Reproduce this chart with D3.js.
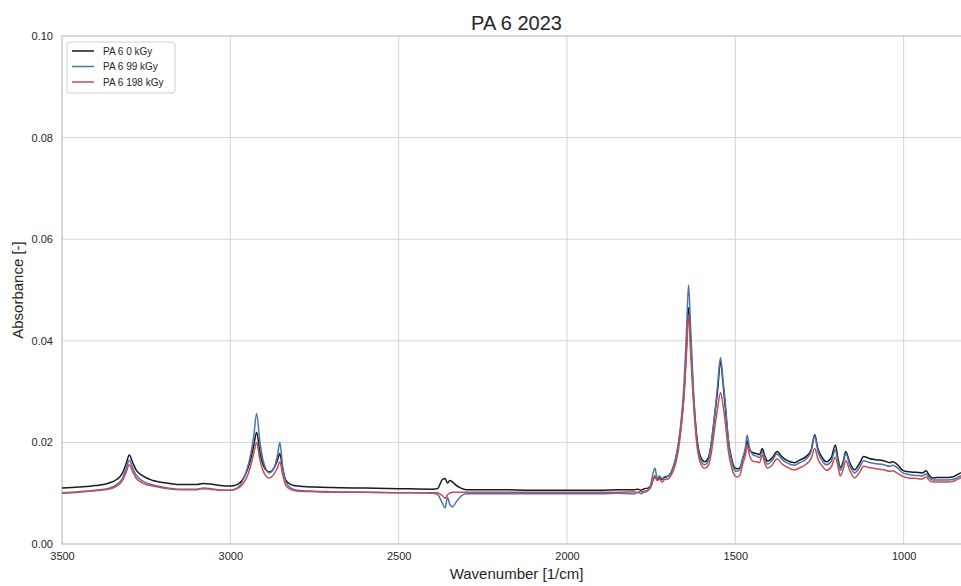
<!DOCTYPE html>
<html>
<head>
<meta charset="utf-8">
<script src="https://cdn.jsdelivr.net/npm/d3@7"></script>
<style>
  html, body { margin: 0; padding: 0; background: #fff; }
  svg { display: block; font-family: "Liberation Sans", Arial, sans-serif; }
</style>
</head>
<body>
<svg id="chart" width="961" height="586"></svg>
<script>
// FTIR spectra of PA 6 after irradiation (absorbance vs. wavenumber)
const wavenumbers = [
  3500, 3450, 3400, 3360, 3340, 3320, 3310, 3300, 3290, 3280, 3260, 3230, 3200, 3150, 3100, 3080, 3060, 3030, 3000,
  2980, 2965, 2950, 2940, 2930, 2922, 2912, 2900, 2884, 2870, 2860, 2853, 2845, 2835, 2820, 2800, 2750, 2700, 2600,
  2500, 2400, 2385, 2370, 2362, 2355, 2348, 2340, 2330, 2315, 2300, 2200, 2100, 2000, 1900, 1850, 1800, 1790, 1780,
  1770, 1760, 1750, 1745, 1739, 1732, 1725, 1718, 1710, 1700, 1690, 1680, 1670, 1660, 1652, 1645, 1639, 1633, 1625,
  1615, 1605, 1591, 1580, 1570, 1561, 1553, 1544, 1537, 1530, 1520, 1510, 1502, 1495, 1487, 1478, 1470, 1465, 1458,
  1448, 1437, 1428, 1420, 1412, 1404, 1390, 1376, 1362, 1348, 1324, 1309, 1290, 1275, 1264, 1255, 1240, 1230, 1215,
  1203, 1195, 1188, 1180, 1172, 1160, 1146, 1130, 1119, 1100, 1081, 1060, 1040, 1033, 1015, 1003, 985, 963, 945,
  933, 925, 914, 900, 880, 855, 831, 800
];

const absorbance0 = [
  0.0110, 0.0112, 0.0115, 0.0120, 0.0126, 0.0140, 0.0157, 0.0175, 0.0160, 0.0146, 0.0134, 0.0125, 0.0121, 0.0117, 0.0117, 0.0119, 0.0118, 0.0115, 0.0114,
  0.0117, 0.0125, 0.0145, 0.0165, 0.0195, 0.0220, 0.0180, 0.0152, 0.0142, 0.0150, 0.0165, 0.0178, 0.0150, 0.0125, 0.0117, 0.0114, 0.0112, 0.0111, 0.0110,
  0.0109, 0.0108, 0.0109, 0.0127, 0.0129, 0.0120, 0.0125, 0.0122, 0.0116, 0.0110, 0.0107, 0.0107, 0.0106, 0.0106, 0.0106, 0.0107, 0.0107, 0.0108, 0.0106,
  0.0109, 0.0110, 0.0116, 0.0125, 0.0132, 0.0126, 0.0130, 0.0127, 0.0131, 0.0133, 0.0142, 0.0160, 0.0190, 0.0240, 0.0300, 0.0390, 0.0465, 0.0400, 0.0300,
  0.0215, 0.0175, 0.0162, 0.0170, 0.0205, 0.0255, 0.0300, 0.0360, 0.0320, 0.0270, 0.0200, 0.0165, 0.0150, 0.0148, 0.0150, 0.0168, 0.0185, 0.0203, 0.0185,
  0.0180, 0.0178, 0.0176, 0.0188, 0.0172, 0.0163, 0.0170, 0.0182, 0.0172, 0.0165, 0.0160, 0.0165, 0.0172, 0.0185, 0.0215, 0.0188, 0.0168, 0.0162, 0.0170,
  0.0195, 0.0168, 0.0150, 0.0162, 0.0182, 0.0160, 0.0146, 0.0160, 0.0172, 0.0168, 0.0166, 0.0164, 0.0160, 0.0162, 0.0154, 0.0145, 0.0142, 0.0141, 0.0140,
  0.0144, 0.0136, 0.0130, 0.0131, 0.0131, 0.0132, 0.0140, 0.0145
];

const absorbance99 = [
  0.0101, 0.0103, 0.0106, 0.0110, 0.0116, 0.0130, 0.0147, 0.0165, 0.0150, 0.0136, 0.0124, 0.0116, 0.0112, 0.0108, 0.0108, 0.0110, 0.0109, 0.0106, 0.0106,
  0.0110, 0.0122, 0.0148, 0.0175, 0.0215, 0.0257, 0.0200, 0.0158, 0.0140, 0.0150, 0.0175, 0.0200, 0.0155, 0.0122, 0.0110, 0.0106, 0.0104, 0.0103, 0.0102,
  0.0101, 0.0100, 0.0098, 0.0080, 0.0071, 0.0092, 0.0078, 0.0073, 0.0082, 0.0094, 0.0099, 0.0099, 0.0099, 0.0099, 0.0099, 0.0100, 0.0099, 0.0102, 0.0099,
  0.0104, 0.0106, 0.0120, 0.0138, 0.0149, 0.0130, 0.0134, 0.0128, 0.0133, 0.0134, 0.0142, 0.0162, 0.0195, 0.0250, 0.0320, 0.0420, 0.0510, 0.0430, 0.0310,
  0.0210, 0.0170, 0.0156, 0.0165, 0.0205, 0.0258, 0.0310, 0.0367, 0.0325, 0.0280, 0.0200, 0.0160, 0.0145, 0.0143, 0.0147, 0.0170, 0.0190, 0.0214, 0.0190,
  0.0176, 0.0173, 0.0170, 0.0182, 0.0166, 0.0157, 0.0165, 0.0177, 0.0167, 0.0160, 0.0155, 0.0160, 0.0167, 0.0182, 0.0212, 0.0183, 0.0162, 0.0156, 0.0163,
  0.0185, 0.0162, 0.0145, 0.0158, 0.0178, 0.0155, 0.0140, 0.0152, 0.0164, 0.0160, 0.0158, 0.0156, 0.0153, 0.0155, 0.0148, 0.0140, 0.0137, 0.0135, 0.0134,
  0.0138, 0.0131, 0.0126, 0.0126, 0.0126, 0.0127, 0.0134, 0.0138
];

const absorbance198 = [
  0.0100, 0.0102, 0.0105, 0.0108, 0.0113, 0.0125, 0.0140, 0.0156, 0.0142, 0.0130, 0.0120, 0.0114, 0.0110, 0.0107, 0.0107, 0.0109, 0.0108, 0.0106, 0.0106,
  0.0109, 0.0116, 0.0133, 0.0153, 0.0180, 0.0200, 0.0165, 0.0140, 0.0130, 0.0138, 0.0150, 0.0162, 0.0138, 0.0115, 0.0107, 0.0104, 0.0103, 0.0102, 0.0102,
  0.0101, 0.0101, 0.0101, 0.0095, 0.0090, 0.0097, 0.0100, 0.0102, 0.0102, 0.0102, 0.0102, 0.0102, 0.0102, 0.0102, 0.0102, 0.0102, 0.0103, 0.0101, 0.0104,
  0.0102, 0.0105, 0.0113, 0.0125, 0.0135, 0.0125, 0.0128, 0.0122, 0.0127, 0.0128, 0.0136, 0.0152, 0.0182, 0.0235, 0.0295, 0.0375, 0.0451, 0.0380, 0.0285,
  0.0200, 0.0162, 0.0149, 0.0155, 0.0185, 0.0230, 0.0265, 0.0298, 0.0275, 0.0240, 0.0180, 0.0148, 0.0135, 0.0132, 0.0135, 0.0158, 0.0175, 0.0195, 0.0175,
  0.0163, 0.0162, 0.0160, 0.0175, 0.0158, 0.0149, 0.0156, 0.0168, 0.0158, 0.0152, 0.0146, 0.0150, 0.0157, 0.0168, 0.0188, 0.0168, 0.0152, 0.0145, 0.0152,
  0.0171, 0.0152, 0.0134, 0.0146, 0.0164, 0.0145, 0.0130, 0.0142, 0.0153, 0.0150, 0.0148, 0.0146, 0.0143, 0.0144, 0.0138, 0.0133, 0.0130, 0.0129, 0.0128,
  0.0132, 0.0126, 0.0122, 0.0122, 0.0122, 0.0123, 0.0130, 0.0133
];

const seriesNames = ["PA 6 0 kGy", "PA 6 99 kGy", "PA 6 198 kGy"];
const seriesColors = ["#1a1a1a", "#4c72b0", "#c44e52"];
const xTicks = [3500, 3000, 2500, 2000, 1500, 1000];
const yTicks = [0.00, 0.02, 0.04, 0.06, 0.08, 0.10];

const series = [absorbance0, absorbance99, absorbance198].map((vals, i) => ({
  name: seriesNames[i],
  color: seriesColors[i],
  points: wavenumbers.map((w, j) => ({ w, a: vals[j] }))
}));

const margin = { left: 62, top: 36, right: 971, bottom: 544 };
const svg = d3.select("#chart");

const x = d3.scaleLinear().domain([3500, 800]).range([margin.left, margin.right]);
const y = d3.scaleLinear().domain([0, 0.10]).range([margin.bottom, margin.top]);

const textColor = "#262626";
const gridColor = "#d4d4d4";

// grid
const grid = svg.append("g");
grid.selectAll("line.vx").data(xTicks).join("line")
  .attr("x1", d => x(d)).attr("x2", d => x(d))
  .attr("y1", margin.top).attr("y2", margin.bottom)
  .attr("stroke", gridColor).attr("stroke-width", 1);
grid.selectAll("line.hy").data(yTicks).join("line")
  .attr("x1", margin.left).attr("x2", margin.right)
  .attr("y1", d => y(d)).attr("y2", d => y(d))
  .attr("stroke", gridColor).attr("stroke-width", 1);

// frame
svg.append("rect")
  .attr("x", margin.left).attr("y", margin.top)
  .attr("width", margin.right - margin.left).attr("height", margin.bottom - margin.top)
  .attr("fill", "none").attr("stroke", "#cccccc").attr("stroke-width", 1.25);

// axes (labels only; tick marks hidden like the whitegrid style)
const xAxis = d3.axisBottom(x).tickValues(xTicks).tickFormat(d3.format("d")).tickSize(0).tickPadding(8);
const gx = svg.append("g").attr("transform", `translate(0,${margin.bottom})`).call(xAxis);
gx.select(".domain").remove();
gx.selectAll("text").attr("fill", textColor).style("font-size", "11px");

const yAxis = d3.axisLeft(y).tickValues(yTicks).tickFormat(d3.format(".2f")).tickSize(0).tickPadding(9);
const gy = svg.append("g").attr("transform", `translate(${margin.left},0)`).call(yAxis);
gy.select(".domain").remove();
gy.selectAll("text").attr("fill", textColor).style("font-size", "11px");

// spectra
svg.append("clipPath").attr("id", "plot-clip").append("rect")
  .attr("x", margin.left).attr("y", margin.top)
  .attr("width", margin.right - margin.left).attr("height", margin.bottom - margin.top);

const line = d3.line().x(d => x(d.w)).y(d => y(d.a)).curve(d3.curveMonotoneX);

svg.append("g").attr("clip-path", "url(#plot-clip)")
  .selectAll("path").data(series).join("path")
  .attr("d", d => line(d.points))
  .attr("fill", "none")
  .attr("stroke", d => d.color)
  .attr("stroke-width", 1.5)
  .attr("stroke-linejoin", "round");

// title and axis labels
svg.append("text").attr("x", (margin.left + margin.right) / 2).attr("y", 30)
  .attr("text-anchor", "middle").attr("fill", textColor).style("font-size", "20px").text("PA 6 2023");
svg.append("text").attr("x", (margin.left + margin.right) / 2).attr("y", 579)
  .attr("text-anchor", "middle").attr("fill", textColor).style("font-size", "15px").text("Wavenumber [1/cm]");
svg.append("text").attr("transform", `translate(23,${(margin.top + margin.bottom) / 2}) rotate(-90)`)
  .attr("text-anchor", "middle").attr("fill", textColor).style("font-size", "15px").text("Absorbance [-]");

// legend
const legend = svg.append("g").attr("transform", "translate(67,42)");
legend.append("rect").attr("width", 108).attr("height", 51).attr("rx", 3)
  .attr("fill", "#fff").attr("fill-opacity", 0.8).attr("stroke", "#d0d0d0").attr("stroke-width", 1);
const items = legend.selectAll("g.item").data(series).join("g")
  .attr("transform", (d, i) => `translate(0,${9 + i * 15.5})`);
items.append("line").attr("x1", 5).attr("x2", 27).attr("y1", 0).attr("y2", 0)
  .attr("stroke", d => d.color).attr("stroke-width", 1.5);
items.append("text").attr("x", 36).attr("y", 0).attr("dy", "0.35em")
  .attr("fill", textColor).style("font-size", "10px").text(d => d.name);
</script>
</body>
</html>
